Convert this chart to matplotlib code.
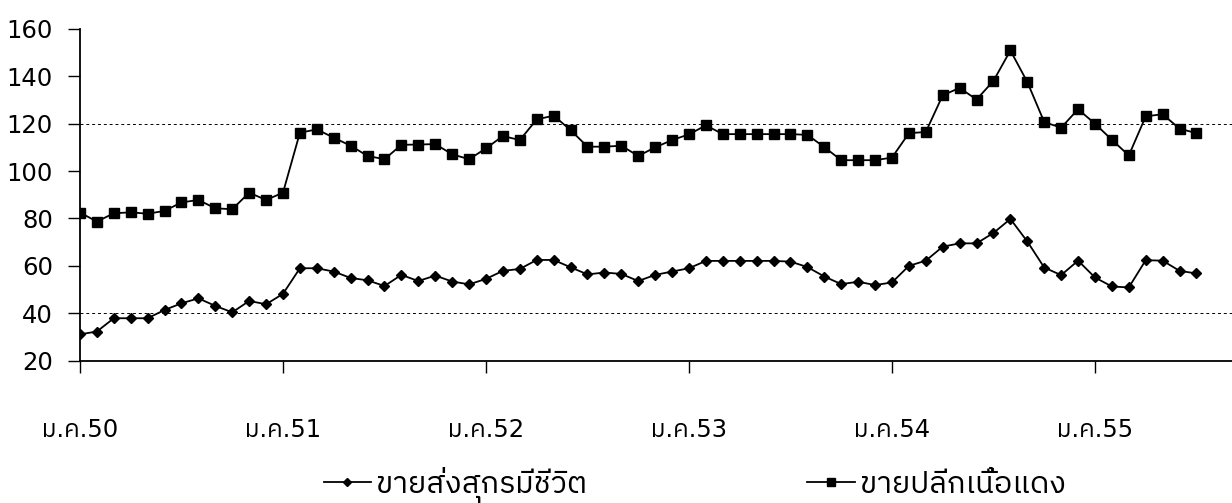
import matplotlib
matplotlib.use("Agg")
import matplotlib.pyplot as plt
from matplotlib import font_manager
from matplotlib.ft2font import FT2Font

# data (monthly, Jan 2550 .. Jul 2555)
retail = [82.5, 78.7, 82.2, 82.6, 82.0, 83.2, 86.8, 87.8, 84.3, 83.9, 90.9, 87.8, 90.9,
          116.2, 117.6, 114.1, 110.7, 106.4, 105.0, 111.1, 111.2, 111.4, 107.1, 105.0,
          109.6, 114.8, 113.1, 121.8, 123.4, 117.3, 110.3, 110.3, 110.7, 106.4, 110.0,
          113.1, 115.5, 119.3, 115.6, 115.6, 115.6, 115.6, 115.6, 115.3, 110.1, 104.6,
          104.6, 104.6, 105.7, 116.0, 116.5, 132.0, 135.1, 130.2, 138.1, 150.9, 137.6,
          120.7, 118.3, 126.1, 120.0, 113.2, 106.6, 123.1, 124.0, 117.9, 116.0]
wholesale = [31.1, 32.3, 37.9, 37.9, 37.9, 41.4, 44.2, 46.3, 43.1, 40.4, 45.2, 43.8, 48.2,
             59.0, 59.0, 57.6, 54.9, 53.9, 51.5, 56.2, 53.6, 55.9, 53.4, 52.2, 54.5, 57.9,
             58.7, 62.5, 62.5, 59.4, 56.4, 57.2, 56.6, 53.6, 56.2, 57.6, 59.0, 62.1, 62.1,
             62.1, 62.1, 62.1, 61.8, 59.5, 55.5, 52.3, 53.3, 51.9, 53.0, 60.0, 62.2, 68.1,
             69.5, 69.5, 73.9, 79.8, 70.3, 59.3, 56.1, 62.2, 55.1, 51.3, 50.9, 62.4, 62.2,
             57.9, 56.8]
year_labels = ["ม.ค.50", "ม.ค.51", "ม.ค.52", "ม.ค.53", "ม.ค.54", "ม.ค.55"]
series_names = ["ขายส่งสุกรมีชีวิต", "ขายปลีกเนื้อแดง"]
yticks = [20, 40, 60, 80, 100, 120, 140, 160]
grid_at = [40, 120]


def has_thai(path):
    try:
        cmap = FT2Font(path).get_charmap()
        return 0x0E01 in cmap and 0x0E21 in cmap
    except Exception:
        return False


thai_fonts = []
for fe in font_manager.fontManager.ttflist:
    if fe.name not in thai_fonts and has_thai(fe.fname):
        thai_fonts.append(fe.name)
thai_fonts.sort(key=lambda n: (0 if "Thai" in n else 1, n))

plt.rcParams["font.family"] = ["DejaVu Sans"] + thai_fonts[:1]

fig = plt.figure(figsize=(12.32, 5.03), dpi=100)
ax = fig.add_axes([80 / 1232, 0.283, 1152 / 1232, 0.6595])

x = list(range(len(retail)))
ax.plot(x, wholesale, color="black", lw=1.3, marker="D", ms=5.5, label=series_names[0])
ax.plot(x, retail, color="black", lw=1.3, marker="s", ms=6.5, label=series_names[1])

for g in grid_at:
    ax.axhline(g, color="black", lw=0.7, ls=(0, (3, 3)), zorder=0)

ax.set_xlim(0, 68.1)
ax.set_ylim(20, 160)
ax.set_yticks(yticks)
ax.set_xticks(range(0, 72, 12))
ax.set_xticklabels(year_labels)
ax.tick_params(axis="both", labelsize=17.5, direction="out", length=8.5, width=1, color="black")
ax.tick_params(axis="y", pad=11)
ax.tick_params(axis="x", pad=33)

for s in ["top", "right"]:
    ax.spines[s].set_visible(False)
for s in ["left", "bottom"]:
    ax.spines[s].set_linewidth(1.3)

fig.legend(loc="center", bbox_to_anchor=(0.564, 0.036), ncol=2, frameon=False,
           fontsize=22, handlelength=1.55, handletextpad=0.17, columnspacing=7.2,
           borderpad=0, markerscale=0.8)

fig.savefig("out.png", dpi=100)
